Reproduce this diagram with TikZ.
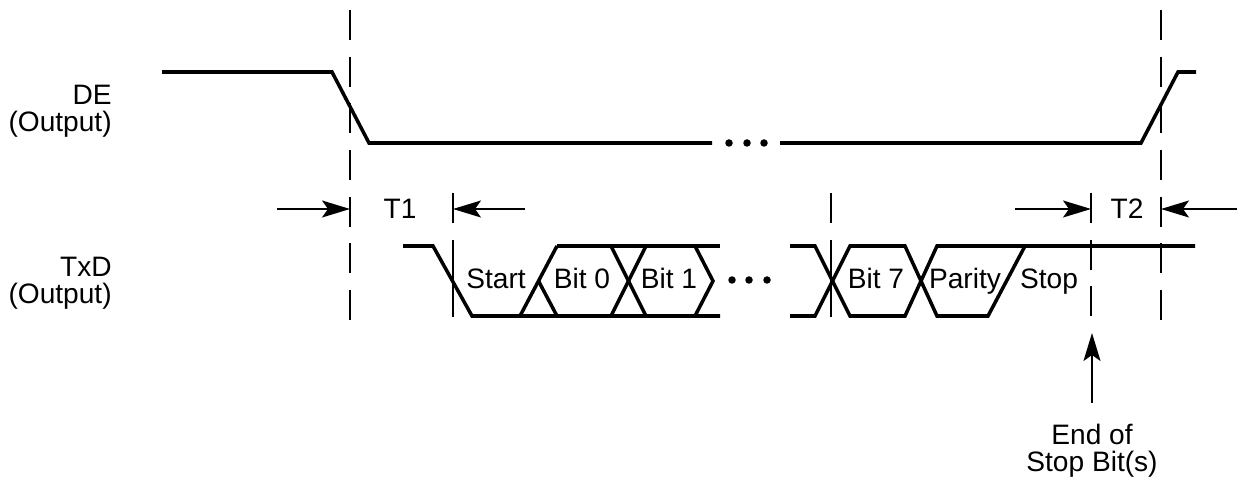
\documentclass[tikz,border=0pt]{standalone}
\usepackage{fontspec}
\setmainfont{Liberation Sans}
\usetikzlibrary{arrows.meta, calc}

\begin{document}
\begin{tikzpicture}[
            x=0.02cm, y=-0.02cm,
            font=\fontsize{16}{15.4}\selectfont,
            wave/.style={line width=2pt},
            guide/.style={line width=0.7pt, dash pattern=on 0.6cm off 0.333cm},
            guidesolid/.style={line width=0.7pt},
            dim/.style={-{Stealth[length=0.56cm, width=0.34cm, inset=0.12cm]}, line width=1pt},
            sig/.style={align=right, anchor=north east, inner sep=0pt},
            bitlbl/.style={anchor=base, inner sep=0pt},
            dot/.style={circle, fill, inner sep=0pt, minimum size=0.15cm}
        ]
            \useasboundingbox (0,0) rectangle (1238,479);

            % --- signal names ---
            \node[sig] (de) at (112,85) {DE\\(Output)};
            \node[sig] (txd) at (112,257) {TxD\\(Output)};

            % --- guide lines ---
            \coordinate (g1top) at (350,10);   \coordinate (g1bot) at (350,320);
            \coordinate (g2top) at (453,193);  \coordinate (g2bot) at (453,317);
            \coordinate (g3top) at (831,193);  \coordinate (g3bot) at (831,317);
            \coordinate (g4top) at (1091,193); \coordinate (g4bot) at (1091,317);
            \coordinate (g5top) at (1161,10);  \coordinate (g5bot) at (1161,320);

            \draw[guide] (g1top) -- (g1bot);
            \draw[guide] (g5top) -- (g5bot);
            \draw[guide] (g4top) -- (g4bot);
            \draw[guidesolid] (g2top) -- ++(0,30) ++(0,17) -- (g2bot);
            \draw[guidesolid] (g3top) -- ++(0,30) ++(0,17) -- (g3bot);

            % --- DE waveform ---
            \draw[wave] (162,72) -- (332,72) -- (369,143) -- (712,143);
            \draw[wave] (780,143) -- (1141,143) -- (1178,72) -- (1196,72);
            \node[dot] (dedot1) at (729,143) {};
            \node[dot] (dedot2) at (747,143) {};
            \node[dot] (dedot3) at (764,143) {};

            % --- TxD waveform ---
            \draw[wave] (403,246) -- (433,246) -- (472,316) -- (720,316);
            \draw[wave] (557,246) -- (720,246);
            \draw[wave] (520,316) -- (557,246);
            \draw[wave] (538.5,281) -- (557,316);
            \draw[wave] (611,246) -- (646,316);
            \draw[wave] (611,316) -- (646,246);
            \draw[wave] (695,246) -- (713,281) -- (695,316);
            \node[dot] (txdot1) at (732,280) {};
            \node[dot] (txdot2) at (749,280) {};
            \node[dot] (txdot3) at (767,280) {};
            \draw[wave] (790,246) -- (815,246) -- (850,316) -- (905,316) -- (937,246) -- (1195,246);
            \draw[wave] (790,316) -- (815,316) -- (850,246) -- (905,246) -- (937,316) -- (988,316) -- (1025,246);

            \node[bitlbl] (start) at (496,289) {Start};
            \node[bitlbl] (bit0) at (582,289) {Bit 0};
            \node[bitlbl] (bit1) at (669,289) {Bit 1};
            \node[bitlbl] (bit7) at (876,289) {Bit 7};
            \node[bitlbl] (parity) at (965,289) {Parity};
            \node[bitlbl] (stop) at (1049,289) {Stop};

            % --- timing arrows ---
            \coordinate (t1from) at (277,209);
            \coordinate (t1to) at (525,209);
            \coordinate (t2from) at (1015,209);
            \coordinate (t2to) at (1237,209);
            \draw[dim] (t1from) -- (t1from -| g1top);
            \draw[dim] (t1to) -- (t1to -| g2top);
            \draw[dim] (t2from) -- (t2from -| g4top);
            \draw[dim] (t2to) -- (t2to -| g5top);
            \node[bitlbl] (t1) at (400,219) {T1};
            \node[bitlbl] (t2) at (1127,219) {T2};

            % --- end of stop bit ---
            \node[align=center, anchor=north, inner sep=0pt] (endstop) at (1092,424) {End of\\Stop Bit(s)};
            \coordinate (endtip) at (1092,333);
            \draw[dim] (1092,403) -- (endtip);

        \end{tikzpicture}
\end{document}
